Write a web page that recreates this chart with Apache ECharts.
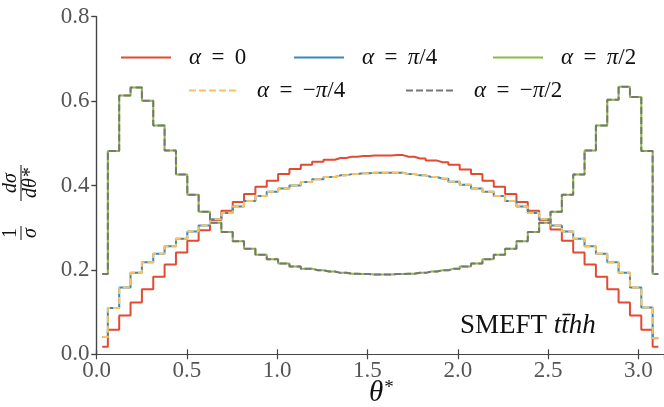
<!DOCTYPE html>
<html><head><meta charset="utf-8">
<script src="https://cdn.jsdelivr.net/npm/echarts@6/dist/echarts.min.js"></script>
<style>html,body{margin:0;padding:0;background:#fff}#c{width:664px;height:407px}</style>
</head><body><div id="c"></div>
<script>
// ---- data ----
const nBins = 50;
const thetaMin = 0;
const thetaMax = Math.PI;
const xTickInterval = 0.5;
const yTickInterval = 0.2;
const yMax = 0.8;
const seriesNames = ['α = 0', 'α = π/4', 'α = π/2', 'α = −π/4', 'α = −π/2'];

const alpha0 = [0.018,0.058,0.092,0.123,0.154,0.184,0.213,0.241,0.269,0.294,
  0.318,0.340,0.361,0.380,0.397,0.411,0.427,0.439,0.449,0.456,
  0.461,0.465,0.468,0.470,0.471,0.471,0.472,0.468,0.464,0.459,
  0.455,0.449,0.438,0.427,0.411,0.397,0.380,0.361,0.340,0.318,
  0.296,0.269,0.241,0.213,0.184,0.154,0.123,0.092,0.058,0.018];
const alphaPi4 = [0.041,0.110,0.158,0.193,0.218,0.238,0.256,0.274,0.291,0.305,
  0.320,0.335,0.350,0.363,0.375,0.385,0.393,0.400,0.408,0.415,
  0.420,0.424,0.427,0.429,0.430,0.430,0.430,0.427,0.424,0.420,
  0.416,0.409,0.402,0.393,0.385,0.375,0.363,0.350,0.335,0.320,
  0.305,0.291,0.274,0.256,0.238,0.218,0.193,0.158,0.111,0.038];
const alphaPi2 = [0.190,0.482,0.613,0.632,0.601,0.542,0.483,0.426,0.378,0.338,
  0.312,0.290,0.268,0.250,0.236,0.225,0.215,0.208,0.203,0.199,
  0.196,0.193,0.191,0.190,0.189,0.189,0.190,0.191,0.193,0.196,
  0.199,0.203,0.208,0.215,0.225,0.236,0.250,0.268,0.290,0.312,
  0.338,0.378,0.426,0.483,0.542,0.603,0.634,0.610,0.482,0.190];
const alphaMinusPi4 = [0.041,0.110,0.158,0.193,0.218,0.238,0.256,0.274,0.291,0.305,
  0.320,0.335,0.350,0.363,0.375,0.385,0.393,0.400,0.408,0.415,
  0.420,0.424,0.427,0.429,0.430,0.430,0.430,0.427,0.424,0.420,
  0.416,0.409,0.402,0.393,0.385,0.375,0.363,0.350,0.335,0.320,
  0.305,0.291,0.274,0.256,0.238,0.218,0.193,0.158,0.111,0.038];
const alphaMinusPi2 = [0.190,0.482,0.613,0.632,0.601,0.542,0.483,0.426,0.378,0.338,
  0.312,0.290,0.268,0.250,0.236,0.225,0.215,0.208,0.203,0.199,
  0.196,0.193,0.191,0.190,0.189,0.189,0.190,0.191,0.193,0.196,
  0.199,0.203,0.208,0.215,0.225,0.236,0.250,0.268,0.290,0.312,
  0.338,0.378,0.426,0.483,0.542,0.603,0.634,0.610,0.482,0.190];

// ---- chart ----
const binWidth = (thetaMax - thetaMin) / nBins;
const centers = alpha0.map((_, i) => thetaMin + (i + 0.5) * binWidth);
const pts = v => v.map((y, i) => [centers[i], y]);

const SERIF = 'Liberation Serif';
const colors = ['#E24A33', '#348ABD', '#8EBA42', '#FBC15E', '#777777'];
const values = [alpha0, alphaPi4, alphaPi2, alphaMinusPi4, alphaMinusPi2];
const dashed = [false, false, false, true, true];

const series = values.map((v, k) => ({
  name: seriesNames[k], type: 'line', step: 'middle', data: pts(v),
  symbol: 'none', showSymbol: false, silent: true,
  lineStyle: { color: colors[k], width: 2, type: dashed[k] ? [7, 3] : 'solid' },
  itemStyle: { color: colors[k] }, z: 2 + k
}));

const legendPos = [[120, 43], [293, 43], [492, 43], [188, 76], [405, 76]];
const legends = seriesNames.map((n, k) => ({
  data: [n], left: legendPos[k][0], top: legendPos[k][1] + 3, padding: 0,
  itemWidth: 50, itemHeight: 26, selectedMode: false,
  itemStyle: { opacity: 0 },
  lineStyle: { width: 2 },
  formatter: s => s.replace(/ = /g, '\u2009 = \u2009').replace(/α/g, '{i|α}').replace(/π/g, '{i|π}'),
  textStyle: { fontFamily: SERIF, fontSize: 23, color: '#111', padding: [0, 0, 0, 13],
    rich: { i: { fontFamily: SERIF, fontStyle: 'italic', fontSize: 23, color: '#111' } } }
}));

const axisLineStyle = { color: '#444', width: 1.2 };
const chart = echarts.init(document.getElementById('c'), null, { renderer: 'canvas' });
chart.setOption({
  backgroundColor: '#fff',
  animation: false,
  grid: { left: 96.5, top: 16.7, width: 573, height: 337.6, containLabel: false },
  xAxis: [{
    type: 'value', min: thetaMin, max: thetaMax, interval: xTickInterval, position: 'bottom',
    axisLine: { lineStyle: axisLineStyle },
    axisTick: { inside: true, length: 5, lineStyle: axisLineStyle },
    axisLabel: { fontFamily: SERIF, fontSize: 23, color: '#555', margin: 5, showMaxLabel: false,
      formatter: v => v.toFixed(1) },
    splitLine: { show: false }
  }, {
    type: 'value', min: thetaMin, max: thetaMax, interval: xTickInterval, position: 'top',
    axisLine: { lineStyle: axisLineStyle },
    axisTick: { inside: true, length: 5, lineStyle: axisLineStyle },
    axisLabel: { show: false }, splitLine: { show: false }
  }],
  yAxis: [{
    type: 'value', min: 0, max: yMax, interval: yTickInterval, position: 'left',
    axisLine: { show: true, lineStyle: axisLineStyle },
    axisTick: { show: true, inside: false, length: 5, lineStyle: axisLineStyle },
    axisLabel: { fontFamily: SERIF, fontSize: 23, color: '#555', margin: 7,
      formatter: v => v.toFixed(1) },
    splitLine: { show: false }
  }, {
    type: 'value', min: 0, max: yMax, interval: yTickInterval, position: 'right',
    axisLine: { show: true, lineStyle: axisLineStyle },
    axisTick: { show: true, inside: true, length: 5, lineStyle: axisLineStyle },
    axisLabel: { show: false }, splitLine: { show: false }
  }],
  legend: legends,
  series: series,
  graphic: [
    { type: 'text', left: 369, top: 379, style: { text: '{i|θ}{s|*}', fill: '#111',
      rich: { i: { fontFamily: SERIF, fontStyle: 'italic', fontSize: 29, fill: '#111' },
              s: { fontFamily: SERIF, fontSize: 19, fill: '#111', verticalAlign: 'top', padding: [0,0,8,1] } } } },
    { type: 'text', left: 460, top: 312, style: { text: 'SMEFT {i|tt\u0304hh}', fill: '#111',
      fontFamily: SERIF, fontSize: 27,
      rich: { i: { fontFamily: SERIF, fontStyle: 'italic', fontSize: 27, fill: '#111' } } } },
    { type: 'group', x: 21, y: 195, rotation: Math.PI / 2, children: [
      { type: 'text', x: -38, y: -10, style: { text: '1', fontFamily: SERIF, fontSize: 20, fill: '#111', align: 'center', verticalAlign: 'middle' } },
      { type: 'line', shape: { x1: -45, y1: 0, x2: -31, y2: 0 }, style: { stroke: '#111', lineWidth: 1 } },
      { type: 'text', x: -38, y: 10, style: { text: 'σ', fontFamily: SERIF, fontStyle: 'italic', fontSize: 20, fill: '#111', align: 'center', verticalAlign: 'middle' } },
      { type: 'text', x: 12, y: -10, style: { text: 'dσ', fontFamily: SERIF, fontStyle: 'italic', fontSize: 20, fill: '#111', align: 'center', verticalAlign: 'middle' } },
      { type: 'line', shape: { x1: -6, y1: 0, x2: 30, y2: 0 }, style: { stroke: '#111', lineWidth: 1 } },
      { type: 'text', x: 12, y: 10, style: { text: 'dθ*', fontFamily: SERIF, fontStyle: 'italic', fontSize: 20, fill: '#111', align: 'center', verticalAlign: 'middle' } }
    ] }
  ]
});
</script></body></html>
